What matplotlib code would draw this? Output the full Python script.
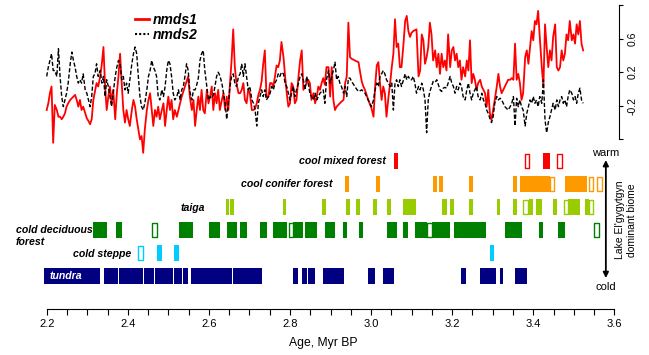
import numpy as np
import matplotlib.pyplot as plt
from matplotlib.lines import Line2D

plt.rcParams['font.family'] = ['Liberation Sans', 'DejaVu Sans']

# NMDS sample ages (Myr BP)
age = [2.200, 2.204, 2.208, 2.212, 2.216, 2.220, 2.225, 2.229, 2.233, 2.237,
       2.241, 2.245, 2.249, 2.253, 2.258, 2.262, 2.266, 2.270, 2.274, 2.278,
       2.282, 2.286, 2.290, 2.295, 2.299, 2.303, 2.307, 2.311, 2.315, 2.319,
       2.323, 2.327, 2.332, 2.336, 2.340, 2.344, 2.348, 2.352, 2.356, 2.360,
       2.364, 2.369, 2.373, 2.377, 2.381, 2.385, 2.389, 2.393, 2.397, 2.401,
       2.405, 2.410, 2.414, 2.418, 2.422, 2.426, 2.430, 2.434, 2.438, 2.442,
       2.447, 2.451, 2.455, 2.459, 2.463, 2.467, 2.471, 2.475, 2.479, 2.484,
       2.488, 2.492, 2.496, 2.500, 2.504, 2.508, 2.512, 2.516,
       2.521, 2.525, 2.529, 2.533, 2.537, 2.541, 2.545, 2.549, 2.553, 2.558,
       2.562, 2.566, 2.570, 2.574, 2.578, 2.582, 2.586, 2.590, 2.595, 2.599,
       2.603, 2.607, 2.611, 2.615, 2.619, 2.623, 2.627, 2.632, 2.636, 2.640,
       2.644, 2.648, 2.652, 2.656, 2.660, 2.664, 2.668, 2.673, 2.677, 2.681,
       2.685, 2.689, 2.693, 2.697, 2.701, 2.706, 2.710, 2.714, 2.718, 2.722,
       2.726, 2.730, 2.734, 2.738, 2.742, 2.747, 2.751, 2.755, 2.759, 2.763,
       2.767, 2.771, 2.775, 2.779, 2.784, 2.788, 2.792, 2.796, 2.800, 2.804,
       2.808, 2.812, 2.816, 2.821, 2.825, 2.829, 2.833, 2.837, 2.841, 2.845,
       2.849, 2.853,
       2.858, 2.862, 2.866, 2.870, 2.874, 2.878, 2.882, 2.886, 2.890, 2.895,
       2.899, 2.903, 2.907, 2.911, 2.915, 2.919, 2.923, 2.927, 2.932, 2.936,
       2.940, 2.944, 2.948, 2.952, 2.956, 2.960, 2.964, 2.969, 2.973, 2.977,
       2.981, 2.985, 2.989, 2.993, 2.997, 3.001, 3.006, 3.010, 3.014, 3.018,
       3.022, 3.026, 3.030, 3.034, 3.038, 3.043, 3.047, 3.051, 3.055, 3.059,
       3.063, 3.067, 3.071, 3.075, 3.080, 3.084, 3.088, 3.092, 3.096, 3.100,
       3.104, 3.108, 3.112, 3.117, 3.121, 3.125, 3.129, 3.133, 3.137, 3.141,
       3.145, 3.149, 3.153, 3.158, 3.162, 3.166, 3.170, 3.174, 3.178, 3.182,
       3.186,
       3.190, 3.195, 3.199, 3.203, 3.207, 3.211, 3.215, 3.219, 3.223, 3.227,
       3.232, 3.236, 3.240, 3.244, 3.248, 3.252, 3.256, 3.260, 3.264, 3.269,
       3.273, 3.277, 3.281, 3.285, 3.289, 3.293, 3.297, 3.301, 3.305, 3.310,
       3.314, 3.318, 3.322, 3.326, 3.330, 3.334, 3.338, 3.343, 3.347, 3.351,
       3.355, 3.359, 3.363, 3.367, 3.371, 3.375, 3.380, 3.384, 3.388, 3.392,
       3.396, 3.400, 3.404, 3.408, 3.412, 3.416, 3.421, 3.425, 3.429, 3.433,
       3.437, 3.441, 3.445, 3.449, 3.454, 3.458, 3.462, 3.466, 3.470, 3.474,
       3.478, 3.482, 3.486, 3.490, 3.495, 3.499, 3.503, 3.507, 3.511, 3.515,
       3.519, 3.523]

nmds1 = [-0.25, -0.17, -0.05, 0.03, -0.64, -0.19, -0.25, -0.33, -0.33, -0.36,
         -0.33, -0.29, -0.21, -0.17, -0.13, -0.11, -0.09, -0.07, -0.13, -0.21,
         -0.13, -0.25, -0.21, -0.29, -0.35, -0.38, -0.42, -0.36, -0.13, -0.03,
         0.07, 0.03, 0.15, 0.30, 0.50, 0.03, -0.25, -0.09, 0.03, -0.17,
         -0.01, -0.36, -0.05, 0.15, 0.42, 0.07, -0.25, -0.40, -0.25, -0.36,
         -0.44, -0.25, -0.13, -0.21, -0.36, -0.48, -0.60, -0.56, -0.76, -0.48,
         -0.25, -0.13, -0.05, -0.25, -0.44, -0.25, -0.33, -0.21, -0.36, -0.25,
         -0.17, -0.44, -0.25, -0.09, -0.25, -0.13, -0.36, -0.25,
         -0.33, -0.25, -0.17, -0.09, -0.03, 0.03, 0.09, 0.15, -0.09, -0.25,
         -0.13, -0.44, -0.25, -0.09, -0.25, -0.01, -0.25, -0.29, -0.01, -0.17,
         -0.09, 0.03, -0.25, -0.05, -0.17, -0.01, -0.25, -0.13, -0.05, -0.25,
         -0.09, -0.25, 0.07, 0.34, 0.71, 0.26, 0.07, -0.05, -0.05, -0.01,
         0.07, -0.13, -0.17, -0.01, -0.05, -0.25, -0.25, -0.23, -0.17, -0.07,
         -0.01, 0.09, 0.30, 0.46, -0.09, -0.09, 0.07, 0.07, 0.03, 0.15,
         0.28, 0.26, 0.34, 0.56, 0.38, 0.15, -0.05, -0.21, -0.17, 0.07,
         0.03, -0.17, -0.13, 0.15, 0.34, 0.46, -0.01, 0.03, 0.07, 0.11,
         0.07, -0.13,
         -0.05, -0.17, -0.09, 0.03, -0.01, 0.07, 0.13, 0.05, 0.26, 0.26,
         -0.09, 0.26, -0.13, -0.25, -0.21, -0.19, -0.17, -0.15, -0.13, 0.07,
         0.15, 0.79, 0.38, 0.36, 0.35, 0.34, 0.33, 0.32, 0.20, 0.09,
         0.03, -0.01, -0.07, -0.13, -0.18, -0.23, -0.33, 0.03, 0.28, 0.32,
         0.07, -0.13, 0.03, -0.05, -0.33, -0.09, 0.07, 0.26, 0.42, 0.83,
         0.50, 0.54, 0.26, 0.26, 0.54, 0.81, 0.87, 0.69, 0.62, 0.67,
         0.69, 0.70, 0.71, 0.15, 0.22, 0.65, 0.58, 0.30, 0.38, 0.50,
         0.79, 0.65, 0.34, 0.46, 0.26, 0.42, 0.18, 0.42, 0.26, 0.34,
         0.22,
         0.65, 0.26, 0.46, 0.50, 0.34, 0.42, 0.26, 0.34, 0.11, 0.26,
         0.15, 0.34, 0.22, 0.58, 0.07, 0.18, 0.11, -0.01, 0.07, 0.11,
         0.03, -0.01, -0.05, -0.21, -0.01, -0.29, -0.37, -0.25, -0.13, 0.03,
         0.18, 0.03, -0.05, -0.01, 0.03, 0.07, 0.11, 0.11, 0.13, 0.11,
         0.54, 0.11, 0.18, 0.07, -0.13, -0.05, 0.38, 0.46, 0.30, 0.50,
         0.69, 0.58, 0.81, 0.77, 0.93, 0.62, 0.26, 0.03, 0.77, 0.50,
         0.26, 0.46, 0.34, 0.62, 0.77, 0.26, 0.22, 0.26, 0.46, 0.34,
         0.42, 0.65, 0.58, 0.81, 0.58, 0.65, 0.54, 0.77, 0.65, 0.81,
         0.54, 0.46]

nmds2 = [0.15, 0.26, 0.34, 0.42, 0.22, 0.22, 0.15, 0.48, 0.15, -0.09,
         -0.21, -0.13, -0.05, 0.07, 0.30, 0.44, 0.34, 0.26, 0.15, 0.07,
         0.11, 0.07, 0.18, -0.01, -0.05, -0.13, -0.21, -0.09, 0.15, 0.18,
         0.30, 0.15, 0.22, 0.07, 0.15, -0.09, 0.11, 0.03, -0.09, -0.21,
         -0.05, 0.15, 0.26, 0.34, 0.30, 0.11, 0.15, -0.01, 0.07, -0.05,
         0.11, 0.30, 0.42, 0.50, 0.42, 0.15, -0.09, -0.21, -0.25, -0.17,
         -0.01, 0.15, 0.22, 0.34, 0.26, 0.22, 0.15, -0.09, -0.13, -0.01,
         -0.09, 0.03, 0.22, 0.34, 0.30, 0.15, -0.05, -0.13,
         -0.09, -0.01, -0.13, -0.01, 0.03, 0.15, 0.30, 0.22, -0.03, -0.13,
         -0.01, -0.01, 0.05, 0.13, 0.34, 0.42, 0.46, 0.22, 0.03, -0.13,
         -0.09, -0.11, -0.07, 0.03, 0.15, 0.20, 0.16, 0.07, -0.05, -0.17,
         -0.36, -0.17, 0.03, 0.15, 0.18, 0.07, 0.03, 0.15, 0.18, 0.30,
         0.15, 0.30, 0.15, -0.01, 0.03, -0.13, -0.17, -0.25, -0.44, -0.17,
         -0.09, -0.01, -0.09, -0.01, -0.13, -0.09, -0.05, 0.03, -0.01, 0.07,
         0.11, 0.18, 0.15, 0.20, 0.18, 0.07, 0.03, -0.05, -0.13, -0.05,
         0.03, -0.09, -0.01, 0.07, 0.15, 0.18, 0.11, -0.01, 0.15, 0.07,
         -0.05, -0.09,
         -0.13, -0.05, -0.13, -0.09, -0.05, -0.03, -0.01, -0.17, 0.11, 0.22,
         0.07, 0.15, 0.22, 0.32, 0.11, 0.15, 0.07, 0.03, -0.05, 0.03,
         -0.09, 0.13, 0.13, 0.09, 0.06, 0.03, 0.00, -0.03, -0.02, -0.01,
         -0.03, -0.05, -0.09, -0.13, -0.17, -0.21, -0.13, -0.01, 0.07, 0.03,
         0.15, 0.18, 0.22, 0.18, 0.11, 0.07, 0.03, 0.07, -0.25, 0.07,
         0.11, 0.03, 0.11, 0.03, 0.11, 0.18, 0.11, 0.15, 0.11, 0.11,
         0.15, 0.07, -0.05, 0.03, -0.01, 0.07, -0.01, -0.13, -0.52, -0.13,
         -0.03, 0.03, 0.09, 0.08, 0.11, 0.05, -0.01, -0.03, 0.01, 0.02,
         0.01,
         0.07, 0.15, 0.07, 0.03, -0.05, 0.03, -0.01, 0.07, 0.03, -0.09,
         -0.13, -0.01, 0.07, -0.05, -0.13, -0.05, -0.01, 0.03, -0.09, -0.13,
         -0.05, -0.13, -0.17, -0.25, -0.29, -0.35, -0.40, -0.33, -0.17, -0.09,
         -0.13, -0.11, -0.13, -0.17, -0.21, -0.23, -0.25, -0.21, -0.17, -0.09,
         -0.44, -0.11, -0.21, -0.13, -0.21, -0.25, -0.44, -0.29, -0.21, -0.13,
         -0.17, -0.09, -0.17, -0.13, -0.21, -0.09, -0.17, 0.11, -0.37, -0.52,
         -0.40, -0.33, -0.25, -0.17, -0.25, -0.13, -0.21, -0.13, -0.09, -0.17,
         -0.13, -0.21, -0.09, -0.01, -0.05, -0.13, -0.09, -0.17, -0.05, 0.01,
         -0.13, -0.17]

# dominant biome per sample, as (start age, end age) intervals
# filled = dominant biome, open = co-dominant
biome_names = ['tundra', 'cold steppe', 'cold deciduous\nforest', 'taiga',
               'cool conifer forest', 'cool mixed forest']
biome_colors = ['#000080', '#00ccff', '#008000', '#99cc00', '#ff9900', '#ff0000']

tundra_filled = [(2.193, 2.331), (2.341, 2.376), (2.378, 2.437), (2.440, 2.465),
                 (2.467, 2.511), (2.514, 2.534), (2.536, 2.548), (2.556, 2.657),
                 (2.659, 2.731), (2.807, 2.820), (2.830, 2.842), (2.844, 2.862),
                 (2.881, 2.933), (2.992, 3.010), (3.029, 3.057), (3.222, 3.234),
                 (3.269, 3.308), (3.318, 3.325), (3.355, 3.384)]
tundra_open = []

steppe_filled = [(2.472, 2.484), (2.514, 2.526), (3.293, 3.303)]
steppe_open = [(2.425, 2.437)]

decid_filled = [(2.314, 2.349), (2.371, 2.386), (2.526, 2.561), (2.600, 2.627),
                (2.645, 2.669), (2.677, 2.694), (2.726, 2.743), (2.758, 2.793),
                (2.807, 2.832), (2.837, 2.867), (2.886, 2.911), (2.931, 2.941),
                (2.970, 2.980), (3.039, 3.064), (3.079, 3.091), (3.108, 3.138),
                (3.150, 3.195), (3.204, 3.283), (3.330, 3.372), (3.414, 3.424),
                (3.461, 3.478)]
decid_open = [(2.460, 2.472), (2.798, 2.807), (3.138, 3.150), (3.550, 3.562)]

taiga_filled = [(2.642, 2.650), (2.652, 2.662), (2.783, 2.790), (2.879, 2.889),
                (2.938, 2.948), (2.963, 2.973), (3.005, 3.015), (3.039, 3.049),
                (3.079, 3.111), (3.175, 3.187), (3.195, 3.204), (3.241, 3.251),
                (3.310, 3.318), (3.350, 3.360), (3.389, 3.399), (3.407, 3.421),
                (3.449, 3.458), (3.486, 3.515), (3.528, 3.537)]
taiga_open = [(3.375, 3.387), (3.476, 3.486), (3.537, 3.547)]

conifer_filled = [(2.936, 2.946), (3.012, 3.022), (3.153, 3.163), (3.167, 3.177),
                  (3.241, 3.251), (3.350, 3.360), (3.367, 3.441), (3.478, 3.532)]
conifer_open = [(3.441, 3.451), (3.537, 3.547), (3.557, 3.569)]

mixed_filled = [(3.057, 3.066), (3.424, 3.441)]
mixed_open = [(3.380, 3.389), (3.458, 3.471)]

filled = [tundra_filled, steppe_filled, decid_filled, taiga_filled,
          conifer_filled, mixed_filled]
opened = [tundra_open, steppe_open, decid_open, taiga_open,
          conifer_open, mixed_open]

xticks = np.arange(2.2, 3.6001, 0.05)
xlabels = ['%.1f' % t if abs(t * 5 - round(t * 5)) < 1e-6 else '' for t in xticks]

fig = plt.figure(figsize=(6.49, 3.55), dpi=100)
xlim = (2.1588, 3.6121)

# NMDS panel
ax1 = fig.add_axes([0.0462, 0.56, 0.908, 0.4377])
ax1.set_facecolor('none')
ax1.plot(age, nmds1, color='#ff0000', lw=1.3, zorder=2)
ax1.plot(age, nmds2, color='black', lw=1.0, ls=(0, (3, 1.5)), zorder=3)
ax1.set_xlim(*xlim)
ax1.set_ylim(-0.8, 1.05)
for s in ['left', 'top', 'bottom']:
    ax1.spines[s].set_visible(False)
ax1.spines['right'].set_bounds(-0.6, 1.0)
ax1.spines['right'].set_linewidth(0.8)
ax1.set_xticks([])
ax1.yaxis.tick_right()
ax1.set_yticks([-0.6, -0.2, 0.2, 0.6, 1.0], labels=['', '-0.2', '0.2', '0.6', ''])
ax1.tick_params(axis='y', direction='out', length=3, width=0.8, pad=3,
                labelsize=7.5, labelrotation=90)
for lab in ax1.get_yticklabels():
    lab.set_va('center')

handles = [Line2D([], [], color='#ff0000', lw=2),
           Line2D([], [], color='black', lw=1.5, ls=(0, (1, 1)))]
ax1.legend(handles, ['nmds1', 'nmds2'], loc='upper left',
           bbox_to_anchor=(135 / 649, 1 - 13 / 355), bbox_transform=fig.transFigure,
           frameon=False, handlelength=1.0, handletextpad=0.3, labelspacing=0.05,
           borderpad=0, borderaxespad=0,
           prop={'weight': 'bold', 'style': 'italic', 'size': 10})

# biome panel
ax2 = fig.add_axes([0.0462, 0.1296, 0.908, 0.4479])
ax2.set_facecolor('none')
bar_h = 0.72
for i in range(len(biome_names)):
    fx = [(a, b - a) for a, b in filled[i]]
    ox = [(a, b - a) for a, b in opened[i]]
    ax2.broken_barh(fx, (i - bar_h / 2, bar_h), facecolors=biome_colors[i],
                    edgecolor='none')
    if ox:
        ax2.broken_barh(ox, (i - bar_h / 2 + 0.04, bar_h - 0.08), facecolors='white',
                        edgecolors=biome_colors[i], linewidth=1.0)

ax2.set_xlim(*xlim)
ax2.set_ylim(-1.435, 5.478)
for s in ['left', 'top', 'right']:
    ax2.spines[s].set_visible(False)
ax2.spines['bottom'].set_bounds(2.2, 3.6)
ax2.spines['bottom'].set_linewidth(0.8)
ax2.set_yticks([])
ax2.set_xticks(xticks, labels=xlabels)
ax2.tick_params(axis='x', direction='out', length=4.5, width=0.8, pad=3, labelsize=8)

lab_kw = dict(fontsize=7.6, fontweight='bold', style='italic', va='center')
ax2.text(3.037, 5.0, 'cool mixed forest', ha='right', **lab_kw)
ax2.text(2.906, 4.0, 'cool conifer forest', ha='right', **lab_kw)
ax2.text(2.590, 2.95, 'taiga', ha='right', **lab_kw)
ax2.text(2.124, 1.72, 'cold deciduous\nforest', ha='left', linespacing=1.25, **lab_kw)
ax2.text(2.408, 0.97, 'cold steppe', ha='right', **lab_kw)
ax2.text(2.208, 0.0, 'tundra', ha='left', color='white', **lab_kw)

ax2.annotate('', xy=(3.579, 5.04), xytext=(3.579, -0.09), annotation_clip=False,
             arrowprops=dict(arrowstyle='<|-|>', color='black', lw=1.3,
                             mutation_scale=8, shrinkA=0, shrinkB=0))
ax2.text(3.579, 5.36, 'warm', ha='center', va='center', fontsize=8, clip_on=False)
ax2.text(3.579, -0.48, 'cold', ha='center', va='center', fontsize=8, clip_on=False)

fig.text(626 / 649, 1 - 220 / 355, "Lake El'gygytgyn\ndominant biome", rotation=90,
         ha='center', va='center', fontsize=7.5, linespacing=1.15)
fig.text(323 / 649, 1 - 343 / 355, 'Age, Myr BP', ha='center', va='center', fontsize=8.7)

fig.savefig('out.png', dpi=100)
